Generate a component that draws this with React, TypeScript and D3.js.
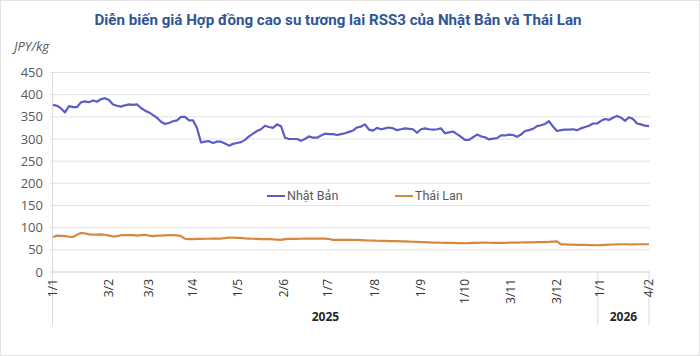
import React from "react";
import * as d3 from "d3";

const titleText = "Diễn biến giá Hợp đồng cao su tương lai RSS3 của Nhật Bản và Thái Lan";
const unitLabel = "JPY/kg";
const seriesNames = ["Nhật Bản", "Thái Lan"];
const seriesColors = ["#5b5cc6", "#d9873f"];

const japanValues = [
  377, 375, 369, 360, 374, 372, 372, 383, 385, 383,
  387, 384, 390, 392, 388, 378, 375, 373, 376, 378,
  377, 378, 370, 364, 360, 354, 348, 339, 334, 336,
  340, 342, 350, 350, 342, 342, 325, 292, 294, 295,
  291, 294, 294, 290, 285, 289, 291, 293, 298, 306,
  312, 318, 322, 330, 327, 325, 333, 329, 303, 300,
  300, 300, 296, 300, 306, 303, 303, 308, 312, 311,
  311, 309, 311, 313, 316, 319, 326, 328, 333, 321,
  319, 325, 322, 324, 326, 324, 320, 322, 324, 323,
  322, 314, 322, 324, 322, 321, 322, 324, 313, 315,
  317, 311, 305, 298, 298, 304, 310, 306, 304, 299,
  301, 302, 308, 308, 310, 309, 305, 310, 318, 320,
  323, 329, 331, 334, 340, 328, 318, 320, 321, 321,
  322, 320, 324, 327, 330, 335, 335, 341, 345, 343,
  348, 352, 348, 341, 349, 345, 335, 333, 330, 329,
];

const thaiValues = [
  79, 82, 81.5, 81, 79.5, 79, 84, 88, 87, 85,
  84.5, 84.5, 85, 84, 82, 80, 81, 83, 83, 83,
  83, 82, 83, 84, 82, 81, 82, 82, 82.5, 83,
  83, 82.5, 81, 75, 74, 74, 74.5, 74.7, 75, 75,
  75.4, 75.4, 75.5, 76.5, 77.5, 77.5, 77, 77, 76, 75.5,
  75, 74.5, 74, 74, 74, 73.5, 73, 72.5, 74, 74.5,
  74.5, 74.7, 75, 75.3, 75.4, 75.4, 75.4, 75.4, 75.4, 74.5,
  72.5, 72.4, 72.4, 72.4, 72.4, 72.4, 72.4, 72, 71.5, 71,
  70.8, 70.5, 70.2, 70, 69.8, 69.6, 69.5, 69.3, 68.9, 68.5,
  68.2, 67.9, 67.5, 67.2, 66.8, 66.4, 66.2, 66, 65.8, 65.6,
  65.5, 65.3, 65.1, 64.9, 65.1, 65.5, 65.9, 66.2, 66.3, 66,
  65.8, 65.6, 65.6, 65.9, 66.1, 66.3, 66.4, 66.5, 66.7, 66.9,
  67, 67.2, 67.4, 67.6, 67.9, 68.5, 69.2, 62.5, 62.2, 61.9,
  61.6, 61.4, 61.1, 61, 60.7, 60.5, 60.3, 60.7, 61.2, 61.7,
  62, 62.3, 62.6, 62.6, 62, 62.4, 62.6, 62.6, 62.6, 62.6,
];

const xTickLabels = ["1/1", "3/2", "3/3", "1/4", "1/5", "2/6", "1/7", "1/8", "1/9", "1/10", "3/11", "3/12", "1/1", "4/2"];
const xTickIndex = [0, 14, 24, 35, 46.25, 57.75, 68.75, 80.5, 92, 103, 114.5, 126, 136.6, 149];
const yTicks = [0, 50, 100, 150, 200, 250, 300, 350, 400, 450];
const yearLabels = ["2025", "2026"];
const yearBounds = [0, 136.2, 149];

const W = 700;
const H = 356;

export default function App() {
  const x = d3.scaleLinear().domain([0, japanValues.length - 1]).range([53, 649]);
  const y = d3.scaleLinear().domain([0, 450]).range([272, 72.5]);
  const line = d3
    .line<number>()
    .x((_, i) => x(i))
    .y((d) => y(d))
    .curve(d3.curveLinear);

  const font = "'Open Sans', 'Noto Sans', sans-serif";

  return (
    <svg
      width={W}
      height={H}
      style={{ position: "absolute", left: 0, top: 0, background: "#fff" }}
    >
      <rect x={0.5} y={0.5} width={W - 1} height={H - 1} fill="#fff" stroke="#e3e3e3" />
      <text
        x={338}
        y={25}
        textAnchor="middle"
        fontFamily="Roboto, sans-serif"
        fontWeight="bold"
        fontSize={15.5}
        fill="#2f5597"
        textLength={487}
        lengthAdjust="spacingAndGlyphs"
      >
        {titleText}
      </text>
      <text x={14} y={51} fontFamily={font} fontStyle="italic" fontSize={13} fill="#595959">
        {unitLabel}
      </text>

      {yTicks.map((t) => (
        <g key={t}>
          <line
            x1={50}
            x2={650}
            y1={y(t)}
            y2={y(t)}
            stroke={t === 0 ? "#d0d0d0" : "#e2e2e2"}
            strokeWidth={1}
          />
          <text
            x={43}
            y={y(t)}
            dy="0.35em"
            textAnchor="end"
            fontFamily={font}
            fontSize={13}
            fill="#595959"
          >
            {t}
          </text>
        </g>
      ))}

      <line x1={x(0) - 0.5} x2={x(0) - 0.5} y1={y(450)} y2={325} stroke="#dadada" />
      {yearBounds.slice(1).map((b, i) => (
        <line key={i} x1={x(b)} x2={x(b)} y1={y(0)} y2={325} stroke="#dadada" />
      ))}

      {xTickLabels.map((lab, i) => (
        <text
          key={i}
          transform={`translate(${x(xTickIndex[i])},279) rotate(-90)`}
          dy="0.35em"
          textAnchor="end"
          fontFamily={font}
          fontSize={12}
          fill="#333333"
        >
          {lab}
        </text>
      ))}

      {yearLabels.map((lab, i) => (
        <text
          key={lab}
          x={(x(yearBounds[i]) + x(yearBounds[i + 1])) / 2}
          y={317}
          dy="0.35em"
          textAnchor="middle"
          fontFamily={font}
          fontWeight="bold"
          fontSize={12}
          fill="#262626"
        >
          {lab}
        </text>
      ))}

      <path d={line(thaiValues) || ""} fill="none" stroke={seriesColors[1]} strokeWidth={2.2} strokeLinejoin="round" />
      <path d={line(japanValues) || ""} fill="none" stroke={seriesColors[0]} strokeWidth={2.2} strokeLinejoin="round" />

      {seriesNames.map((name, i) => {
        const lx = [267, 395][i];
        return (
          <g key={name}>
            <line x1={lx} x2={lx + 18} y1={196} y2={196} stroke={seriesColors[i]} strokeWidth={2} />
            <text x={lx + 20} y={196} dy="0.35em" fontFamily="Roboto, sans-serif" fontSize={12.5} fill="#595959">
              {name}
            </text>
          </g>
        );
      })}
    </svg>
  );
}
